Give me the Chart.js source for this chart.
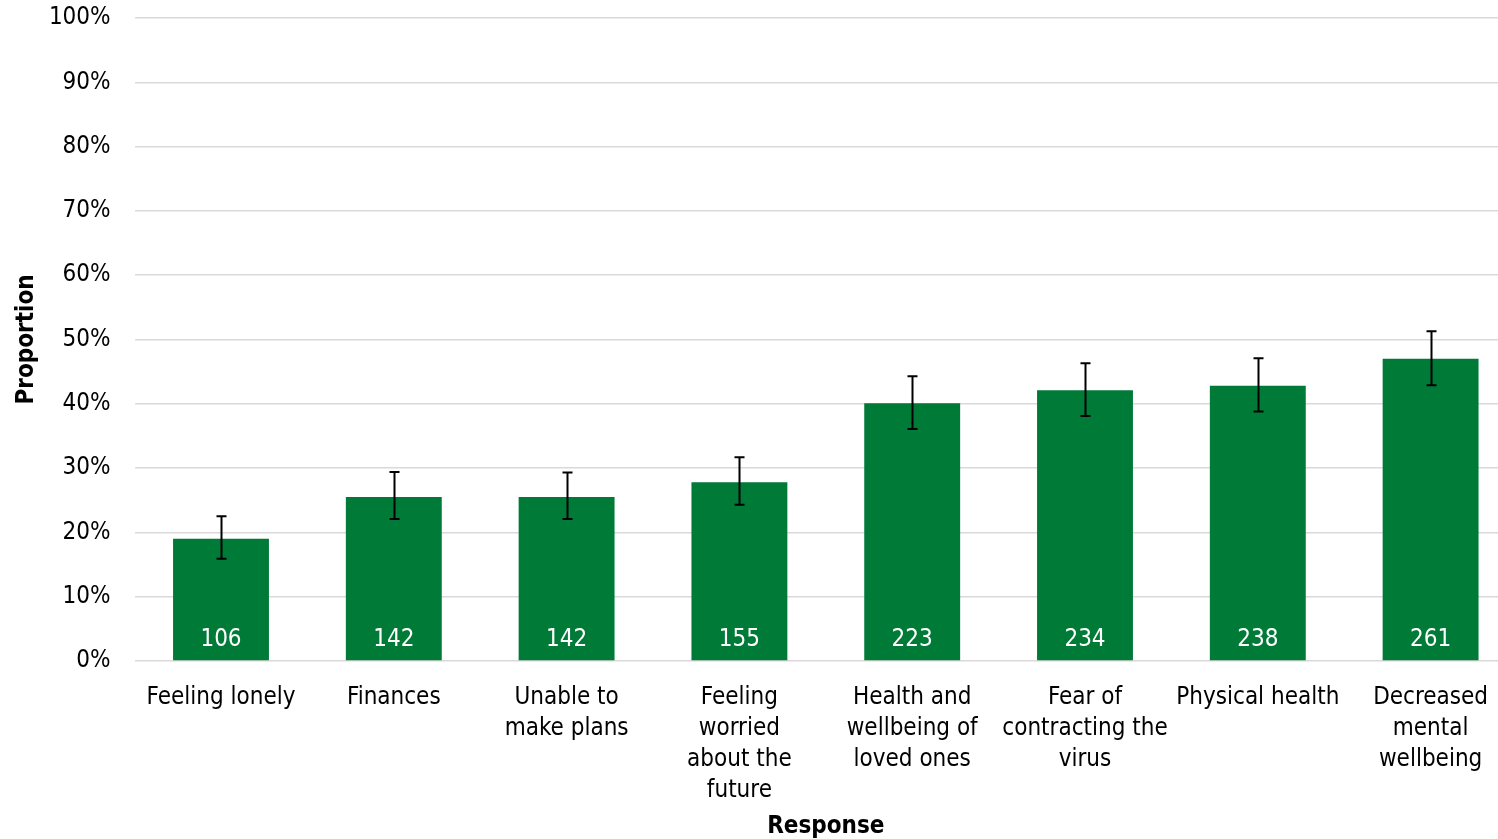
<!DOCTYPE html>
<html>
<head>
<meta charset="utf-8">
<script src="https://cdn.jsdelivr.net/npm/chart.js@4"></script>
<style>
  html, body { margin: 0; padding: 0; overflow: hidden; background: #fff; }
  #wrap { width: 1517px; height: 839px; position: relative; }
</style>
</head>
<body>
<div id="wrap"><canvas id="barChart"></canvas></div>
<script>
const categories = [
    ['Feeling lonely'],
    ['Finances'],
    ['Unable to', 'make plans'],
    ['Feeling', 'worried', 'about the', 'future'],
    ['Health and', 'wellbeing of', 'loved ones'],
    ['Fear of', 'contracting the', 'virus'],
    ['Physical health'],
    ['Decreased', 'mental', 'wellbeing']
];
const proportion = [19.0, 25.5, 25.5, 27.8, 40.1, 42.1, 42.8, 47.0];
const ciLower = [15.9, 22.1, 22.1, 24.3, 36.1, 38.1, 38.8, 42.9];
const ciUpper = [22.5, 29.4, 29.3, 31.7, 44.3, 46.3, 47.1, 51.3];
const counts = [106, 142, 142, 155, 223, 234, 238, 261];

const fontFamily = "'DejaVu Sans Condensed', 'DejaVu Sans', Tahoma, sans-serif";

// error bars + count labels, drawn from the scales
const extrasPlugin = {
    id: 'extras',
    afterDatasetsDraw(chart) {
        const c = chart.ctx;
        const y = chart.scales.y;
        const meta = chart.getDatasetMeta(0);
        c.save();
        meta.data.forEach((bar, i) => {
            const x = Math.round(bar.x) + 0.5;
            const top = y.getPixelForValue(ciUpper[i]);
            const bot = y.getPixelForValue(ciLower[i]);
            c.strokeStyle = '#000';
            c.lineWidth = 2;
            c.beginPath();
            c.moveTo(x, top); c.lineTo(x, bot);
            c.moveTo(x - 5, top); c.lineTo(x + 5, top);
            c.moveTo(x - 5, bot); c.lineTo(x + 5, bot);
            c.stroke();

            c.fillStyle = '#fff';
            c.font = '24px ' + fontFamily;
            c.textAlign = 'center';
            c.textBaseline = 'middle';
            c.fillText(String(counts[i]), bar.x, y.getPixelForValue(0) - 21);
        });
        c.restore();
    }
};

const ctx = document.getElementById('barChart').getContext('2d');
new Chart(ctx, {
    type: 'bar',
    data: {
        labels: categories,
        datasets: [{
            data: proportion,
            backgroundColor: '#007A37',
            borderWidth: 0,
            categoryPercentage: 1,
            barPercentage: 0.555
        }]
    },
    options: {
        responsive: true,
        maintainAspectRatio: false,
        animation: false,
        layout: { padding: 0 },
        plugins: {
            legend: { display: false },
            tooltip: { enabled: false }
        },
        scales: {
            x: {
                grid: { display: false },
                border: { display: false },
                ticks: {
                    color: '#000',
                    padding: 13,
                    maxRotation: 0,
                    autoSkip: false,
                    font: { family: fontFamily, size: 24, lineHeight: 1.3 }
                },
                title: {
                    display: true,
                    text: 'Response',
                    color: '#000',
                    padding: { top: 0, bottom: 0 },
                    font: { family: fontFamily, size: 24, weight: 'bold', lineHeight: 1 }
                },
                afterFit(scale) { scale.height = 178; }
            },
            y: {
                min: 0,
                max: 100,
                ticks: {
                    stepSize: 10,
                    color: '#000',
                    padding: 24,
                    font: { family: fontFamily, size: 24 },
                    callback: v => v + '%'
                },
                grid: { color: '#D9D9D9', lineWidth: 1.5, drawTicks: false },
                border: { display: false },
                title: {
                    display: true,
                    text: 'Proportion',
                    color: '#000',
                    padding: { top: 15, bottom: 0 },
                    font: { family: fontFamily, size: 24, weight: 'bold', lineHeight: 1 }
                },
                afterFit(scale) {
                    scale.width = 134.6;
                    scale.paddingTop = 18;
                }
            }
        }
    },
    plugins: [extrasPlugin]
});
</script>
</body>
</html>
